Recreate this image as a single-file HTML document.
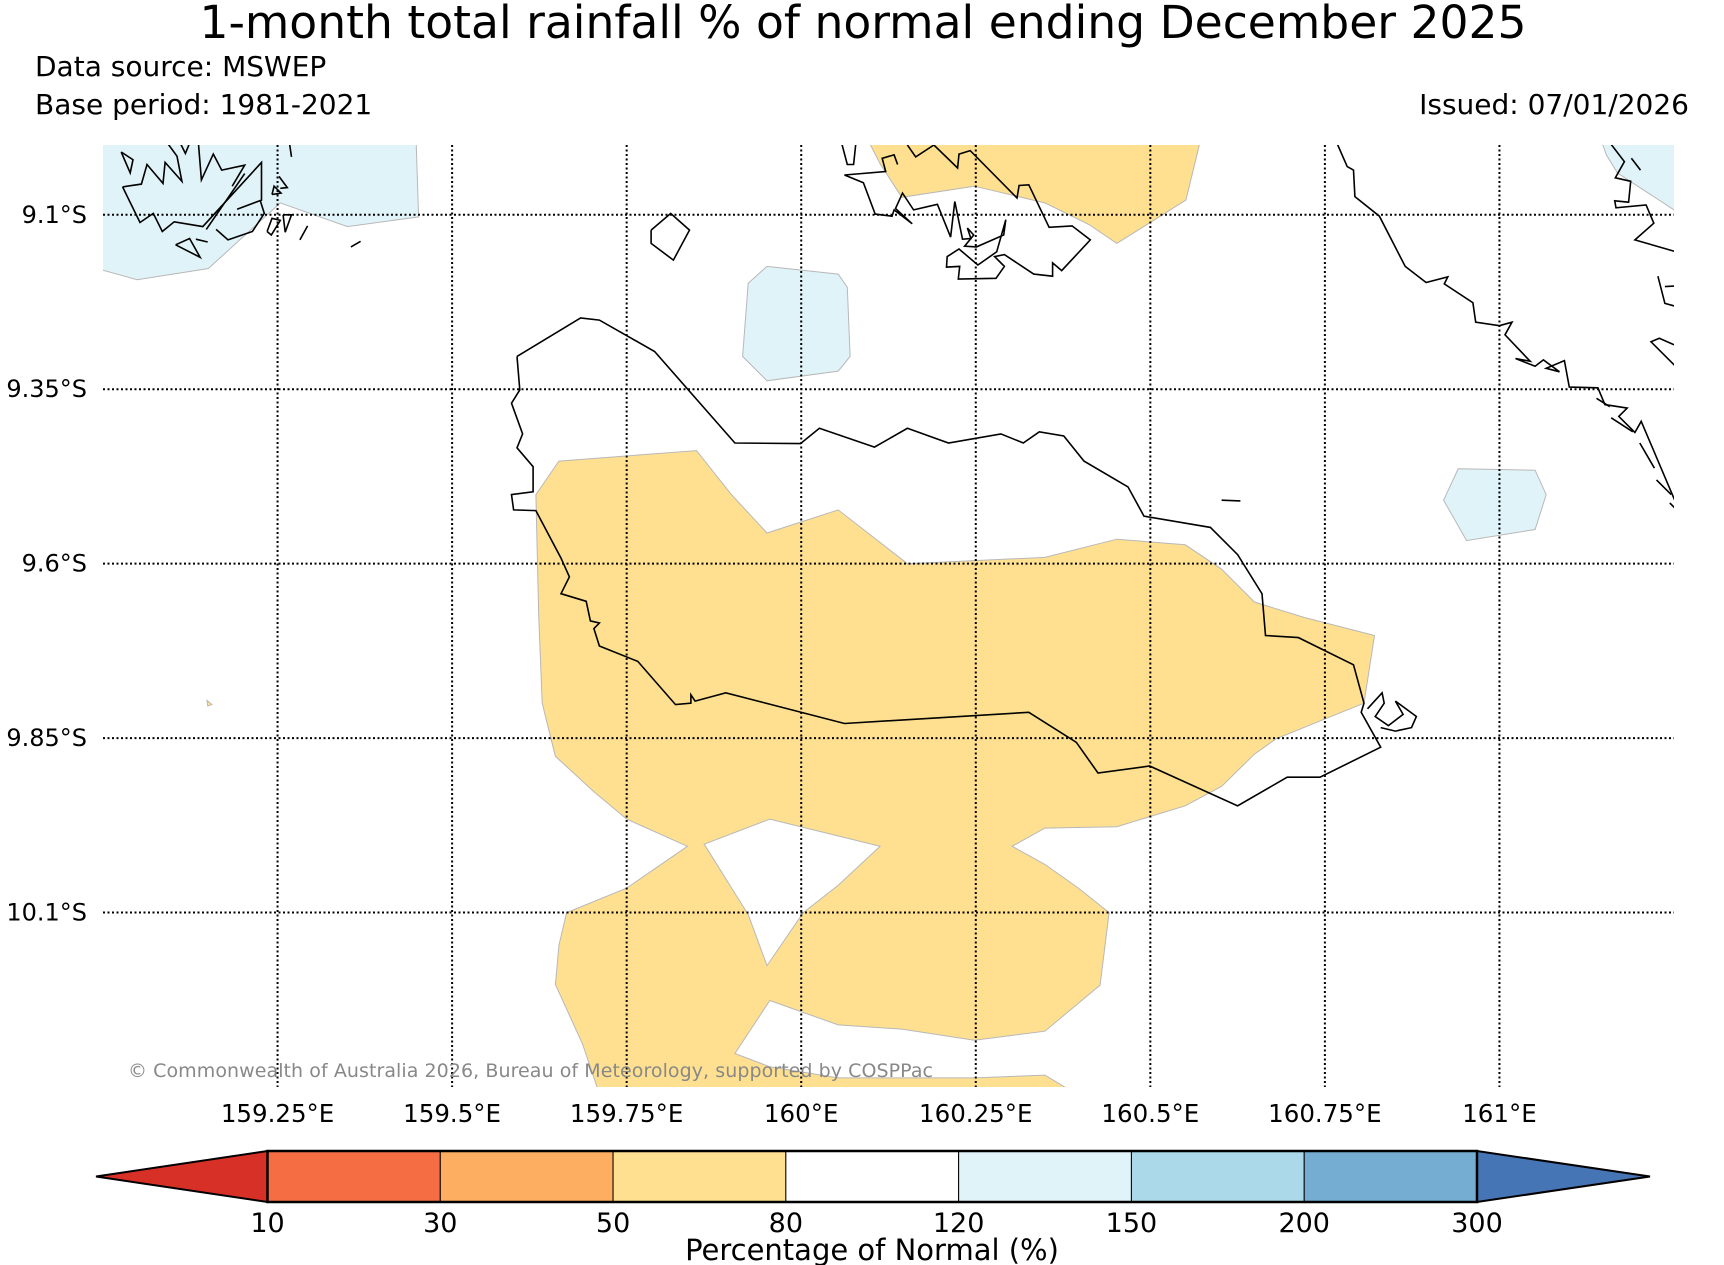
<!DOCTYPE html>
<html><head><meta charset="utf-8"><title>Rainfall % of normal</title>
<style>
html,body{margin:0;padding:0;background:#fff;}
svg{display:block;font-family:"DejaVu Sans","Liberation Sans",sans-serif;}
</style></head>
<body>
<svg id="chart" width="1724" height="1265" viewBox="0 0 1724 1265" xmlns="http://www.w3.org/2000/svg">
<text x="863" y="38" font-size="45.6" text-anchor="middle">1-month total rainfall % of normal ending December 2025</text>
<text x="35" y="76" font-size="28">Data source: MSWEP</text>
<text x="35" y="114" font-size="28">Base period: 1981-2021</text>
<text x="1689" y="114" font-size="28" text-anchor="end">Issued: 07/01/2026</text>
<defs><clipPath id="mapclip"><rect x="103" y="145" width="1571" height="942"/></clipPath></defs>
<g id="map" clip-path="url(#mapclip)">
  <g id="fills"></g>
  <g id="grid"></g>
  <g id="coast"></g>
</g>
<g id="ticks"></g>
<text x="128" y="1077" font-size="19" fill="#888" textLength="805">© Commonwealth of Australia 2026, Bureau of Meteorology, supported by COSPPac</text>
<g id="cbar"></g>
<text x="872" y="1260" font-size="29" text-anchor="middle">Percentage of Normal (%)</text>
</svg>
<script>
// ---- data ----
const lonTicks = [159.25, 159.5, 159.75, 160, 160.25, 160.5, 160.75, 161];
const lonTickLabels = ["159.25°E","159.5°E","159.75°E","160°E","160.25°E","160.5°E","160.75°E","161°E"];
const latTicks = [9.1, 9.35, 9.6, 9.85, 10.1];
const latTickLabels = ["9.1°S","9.35°S","9.6°S","9.85°S","10.1°S"];
const cbLevels = [10, 30, 50, 80, 120, 150, 200, 300];
const cbColors = ["#d73027","#f46d43","#fdae61","#fee090","#ffffff","#e0f3f8","#abd9e9","#74add1","#4575b4"];
const region80 = [[159.653,9.453],[159.850,9.438],[159.900,9.501],[159.951,9.556],[160.053,9.523],[160.152,9.600],[160.349,9.591],[160.452,9.565],[160.550,9.573],[160.602,9.608],[160.649,9.655],[160.720,9.677],[160.821,9.703],[160.806,9.800],[160.680,9.851],[160.649,9.873],[160.602,9.919],[160.550,9.947],[160.452,9.977],[160.349,9.979],[160.302,10.005],[160.349,10.031],[160.397,10.065],[160.441,10.100],[160.428,10.204],[160.349,10.270],[160.248,10.283],[160.144,10.267],[160.053,10.261],[159.955,10.226],[159.905,10.302],[159.955,10.321],[160.053,10.337],[160.248,10.337],[160.349,10.333],[160.394,10.360],[159.711,10.360],[159.687,10.289],[159.648,10.203],[159.653,10.147],[159.664,10.100],[159.750,10.065],[159.837,10.005],[159.750,9.966],[159.703,9.927],[159.648,9.876],[159.629,9.800],[159.624,9.674],[159.620,9.501]];
const regionHole = [[159.861,10.002],[159.955,9.966],[160.113,10.005],[160.053,10.061],[160.003,10.100],[159.951,10.176],[159.924,10.103]];
const regionTop80 = [[160.089,8.98],[160.575,8.98],[160.551,9.079],[160.452,9.141],[160.412,9.114],[160.349,9.083],[160.248,9.059],[160.144,9.075],[160.113,9.027]];
const regionTiny80 = [[159.149,9.796],[159.156,9.802],[159.150,9.804]];
const blueTL = [[158.98,8.98],[159.448,8.98],[159.452,9.103],[159.350,9.117],[159.254,9.083],[159.151,9.177],[159.049,9.193],[158.98,9.174]];
const blueMid = [[159.924,9.198],[159.951,9.174],[160.053,9.185],[160.066,9.204],[160.070,9.303],[160.053,9.324],[159.951,9.338],[159.916,9.303]];
const blueRight = [[160.941,9.464],[161.051,9.466],[161.067,9.501],[161.051,9.551],[160.953,9.567],[160.920,9.509]];
const blueTR = [[161.141,8.98],[161.27,8.98],[161.27,9.106],[161.169,9.040],[161.153,9.014]];
const coastGuadalcanal = [[159.593,9.303],[159.684,9.248],[159.711,9.251],[159.790,9.296],[159.905,9.427],[159.999,9.428],[160.026,9.406],[160.105,9.433],[160.152,9.406],[160.211,9.427],[160.286,9.414],[160.318,9.427],[160.341,9.411],[160.376,9.417],[160.405,9.453],[160.468,9.490],[160.491,9.532],[160.586,9.548],[160.625,9.587],[160.660,9.643],[160.665,9.703],[160.712,9.706],[160.791,9.745],[160.806,9.800],[160.802,9.813],[160.830,9.863],[160.743,9.906],[160.696,9.906],[160.625,9.947],[160.499,9.890],[160.425,9.900],[160.394,9.856],[160.326,9.813],[160.062,9.829],[159.892,9.785],[159.848,9.797],[159.842,9.788],[159.842,9.800],[159.820,9.802],[159.766,9.740],[159.711,9.718],[159.703,9.693],[159.711,9.685],[159.698,9.682],[159.692,9.654],[159.656,9.643],[159.668,9.619],[159.656,9.592],[159.620,9.524],[159.588,9.523],[159.585,9.501],[159.616,9.497],[159.616,9.461],[159.593,9.434],[159.601,9.414],[159.585,9.370],[159.597,9.351],[159.593,9.303]];
const coastSmallE = [[160.811,9.808],[160.832,9.785],[160.835,9.800],[160.822,9.819],[160.841,9.832],[160.862,9.816],[160.851,9.797],[160.881,9.819],[160.874,9.835],[160.851,9.840],[160.830,9.835]];
const coastSavo = [[159.785,9.122],[159.813,9.098],[159.840,9.122],[159.817,9.165],[159.785,9.141],[159.785,9.122]];
const coastBit = [[160.602,9.509],[160.629,9.510]];
const coastFlorida = [[160.152,9.000],[160.164,9.017],[160.190,9.000],[160.224,9.033],[160.226,9.013],[160.242,9.008],[160.309,9.076],[160.312,9.058],[160.326,9.057],[160.355,9.118],[160.388,9.116],[160.414,9.136],[160.373,9.180],[160.360,9.169],[160.360,9.188],[160.333,9.185],[160.291,9.157],[160.277,9.160],[160.291,9.174],[160.279,9.191],[160.225,9.192],[160.227,9.174],[160.208,9.175],[160.209,9.160],[160.226,9.149],[160.253,9.172],[160.280,9.153],[160.293,9.107],[160.290,9.129],[160.251,9.146],[160.234,9.145],[160.247,9.129],[160.238,9.119],[160.243,9.134],[160.231,9.135],[160.220,9.081],[160.214,9.132],[160.195,9.085],[160.161,9.093],[160.145,9.069],[160.135,9.091],[160.159,9.113],[160.133,9.093],[160.130,9.102],[160.106,9.099],[160.089,9.054],[160.062,9.043],[160.121,9.038],[160.116,9.019],[160.133,9.014],[160.138,9.028]];
const coastFloridaW = [[160.056,8.99],[160.066,9.028],[160.075,9.028],[160.079,8.99]];
const coastIsabel = [
 [[159.028,9.060],[159.055,9.056],[159.063,9.028],[159.086,9.055],[159.089,9.025],[159.113,9.052],[159.106,9.016],[159.087,8.99]],
 [[159.107,8.99],[159.118,9.012],[159.127,8.99]],
 [[159.136,8.99],[159.141,9.050],[159.158,9.013],[159.170,9.036],[159.203,9.029],[159.185,9.059]],
 [[159.028,9.060],[159.053,9.111],[159.072,9.098],[159.085,9.124],[159.102,9.110],[159.143,9.117],[159.227,9.025],[159.227,9.079],[159.192,9.092]],
 [[159.148,9.121],[159.203,9.041]],
 [[159.162,9.121],[159.179,9.136],[159.214,9.124],[159.231,9.098],[159.225,9.079]],
 [[159.104,9.143],[159.124,9.134],[159.139,9.161],[159.104,9.143]],
 [[159.133,9.135],[159.150,9.139]],
 [[159.026,9.010],[159.043,9.021],[159.039,9.040],[159.026,9.010]],
 [[159.242,9.071],[159.245,9.059],[159.255,9.069],[159.242,9.071]],
 [[159.252,9.045],[159.264,9.061],[159.254,9.062]],
 [[159.235,9.124],[159.242,9.105],[159.254,9.108],[159.241,9.129],[159.235,9.124]],
 [[159.258,9.100],[159.270,9.100],[159.261,9.125],[159.258,9.100]],
 [[159.282,9.136],[159.293,9.116]],
 [[159.355,9.146],[159.369,9.138]],
 [[159.266,8.99],[159.270,9.017]]
];
const coastMalaita = [
 [[160.764,8.99],[160.782,9.031],[160.791,9.036],[160.793,9.074],[160.828,9.102],[160.865,9.174],[160.895,9.197],[160.926,9.189],[160.921,9.199],[160.962,9.226],[160.966,9.254],[161.000,9.259],[161.018,9.254],[161.008,9.272],[161.044,9.310],[161.023,9.306],[161.051,9.317],[161.063,9.308],[161.086,9.325],[161.067,9.320],[161.093,9.309],[161.100,9.347],[161.141,9.348],[161.151,9.372],[161.183,9.377],[161.171,9.389],[161.194,9.412],[161.203,9.396],[161.251,9.509]],
 [[161.139,9.363],[161.158,9.375]],
 [[161.160,9.391],[161.191,9.411]],
 [[161.201,9.427],[161.222,9.463]],
 [[161.225,9.480],[161.246,9.501]],
 [[161.244,9.513],[161.251,9.520]],
 [[161.153,8.99],[161.179,9.024],[161.166,9.047],[161.188,9.052],[161.185,9.082],[161.165,9.080],[161.167,9.090],[161.210,9.086],[161.221,9.112],[161.194,9.136],[161.27,9.158]],
 [[161.189,9.019],[161.202,9.036]],
 [[161.227,9.188],[161.237,9.227],[161.27,9.236]],
 [[161.237,9.203],[161.27,9.201]],
 [[161.27,9.295],[161.229,9.277],[161.217,9.282],[161.27,9.335]]
];
// ---- axes ----
const X0=103, X1=1674, Y0=145, Y1=1087, LON0=159.0, LON1=161.25, LAT0=9.0, LAT1=10.35;
const xS = lon => X0 + (lon-LON0)/(LON1-LON0)*(X1-X0);
const yS = lat => Y0 + (lat-LAT0)/(LAT1-LAT0)*(Y1-Y0);
const NS="http://www.w3.org/2000/svg";
function mk(tag, parent){const e=document.createElementNS(NS,tag);parent.appendChild(e);return e;}
const pts = arr => arr.map(p=>xS(p[0]).toFixed(1)+","+yS(p[1]).toFixed(1)).join(" ");
const fills=document.getElementById('fills');
function poly(arr, color, name){
  const p=mk('polygon',fills);
  p.setAttribute('points',pts(arr));
  p.setAttribute('fill',color);
  p.setAttribute('stroke','#b8b8b8');
  p.setAttribute('stroke-width','1');
  
  
}
poly(region80, cbColors[3], 'region-50-80-main');
poly(regionHole, '#ffffff', 'region-80-120-hole');
poly(regionTop80, cbColors[3], 'region-50-80-north');
poly(regionTiny80, cbColors[3], 'region-50-80-tiny');
poly(blueTL, cbColors[5], 'region-120-150-northwest');
poly(blueMid, cbColors[5], 'region-120-150-central');
poly(blueRight, cbColors[5], 'region-120-150-east');
poly(blueTR, cbColors[5], 'region-120-150-northeast');
const grid=document.getElementById('grid');
lonTicks.forEach((lon,i)=>{
  const l=mk('line',grid);
  l.setAttribute('x1',xS(lon));l.setAttribute('x2',xS(lon));l.setAttribute('y1',Y0);l.setAttribute('y2',Y1);
  l.setAttribute('stroke','#000');l.setAttribute('stroke-width','2');l.setAttribute('stroke-dasharray','2,2.5');
  
  
});
latTicks.forEach((lat,i)=>{
  const l=mk('line',grid);
  l.setAttribute('x1',X0);l.setAttribute('x2',X1);l.setAttribute('y1',yS(lat));l.setAttribute('y2',yS(lat));
  l.setAttribute('stroke','#000');l.setAttribute('stroke-width','2');l.setAttribute('stroke-dasharray','2,2.5');
  
  
});
const coast=document.getElementById('coast');
function line(arr, name){
  const p=mk('polyline',coast);
  p.setAttribute('points',pts(arr));
  p.setAttribute('fill','none');p.setAttribute('stroke','#000');p.setAttribute('stroke-width','1.6');
  p.setAttribute('stroke-linejoin','miter');
  
  
}
line(coastGuadalcanal,'coastline-guadalcanal');
line(coastSmallE,'coastline-east-islet');
line(coastSavo,'coastline-savo');
line(coastBit,'coastline-fragment');
line(coastFlorida,'coastline-florida-islands');
line(coastFloridaW,'coastline-florida-west');
coastIsabel.forEach(a=>line(a,'coastline-isabel'));
coastMalaita.forEach(a=>line(a,'coastline-malaita'));
const ticks=document.getElementById('ticks');
lonTicks.forEach((lon,i)=>{
  const t=mk('text',ticks);
  t.setAttribute('x',xS(lon));t.setAttribute('y',1122);t.setAttribute('font-size','24.5');t.setAttribute('text-anchor','middle');
  t.textContent=lonTickLabels[i];
  
  
});
latTicks.forEach((lat,i)=>{
  const t=mk('text',ticks);
  t.setAttribute('x',87);t.setAttribute('y',yS(lat)+8);t.setAttribute('font-size','24');t.setAttribute('text-anchor','end');
  t.textContent=latTickLabels[i];
  
  
});
const cb=document.getElementById('cbar');
const CB0=267.5, CB1=1477, CBT=1151, CBB=1202, CBM=(CBT+CBB)/2, TIPL=96, TIPR=1650;
const seg=(CB1-CB0)/(cbLevels.length-1);
const cbX = i => CB0 + i*seg;
{
  const a=mk('polygon',cb);
  a.setAttribute('points',`${TIPL},${CBM} ${CB0},${CBT} ${CB0},${CBB}`);
  a.setAttribute('fill',cbColors[0]);a.setAttribute('stroke','#000');a.setAttribute('stroke-width','2');
  
  
  const b=mk('polygon',cb);
  b.setAttribute('points',`${TIPR},${CBM} ${CB1},${CBT} ${CB1},${CBB}`);
  b.setAttribute('fill',cbColors[cbColors.length-1]);b.setAttribute('stroke','#000');b.setAttribute('stroke-width','2');
  
  
}
for(let i=0;i<cbLevels.length-1;i++){
  const r=mk('rect',cb);
  r.setAttribute('x',cbX(i));r.setAttribute('y',CBT);r.setAttribute('width',seg);r.setAttribute('height',CBB-CBT);
  r.setAttribute('fill',cbColors[i+1]);r.setAttribute('stroke','#000');r.setAttribute('stroke-width','1');
  
  
}
{
  const o=mk('rect',cb);
  o.setAttribute('x',CB0);o.setAttribute('y',CBT);o.setAttribute('width',CB1-CB0);o.setAttribute('height',CBB-CBT);
  o.setAttribute('fill','none');o.setAttribute('stroke','#000');o.setAttribute('stroke-width','2.5');
  
  
}
cbLevels.forEach((v,i)=>{
  const t=mk('text',cb);
  t.setAttribute('x',cbX(i));t.setAttribute('y',1232);t.setAttribute('font-size','27');t.setAttribute('text-anchor','middle');
  t.textContent=v;
  
  
});
</script>
</body></html>
